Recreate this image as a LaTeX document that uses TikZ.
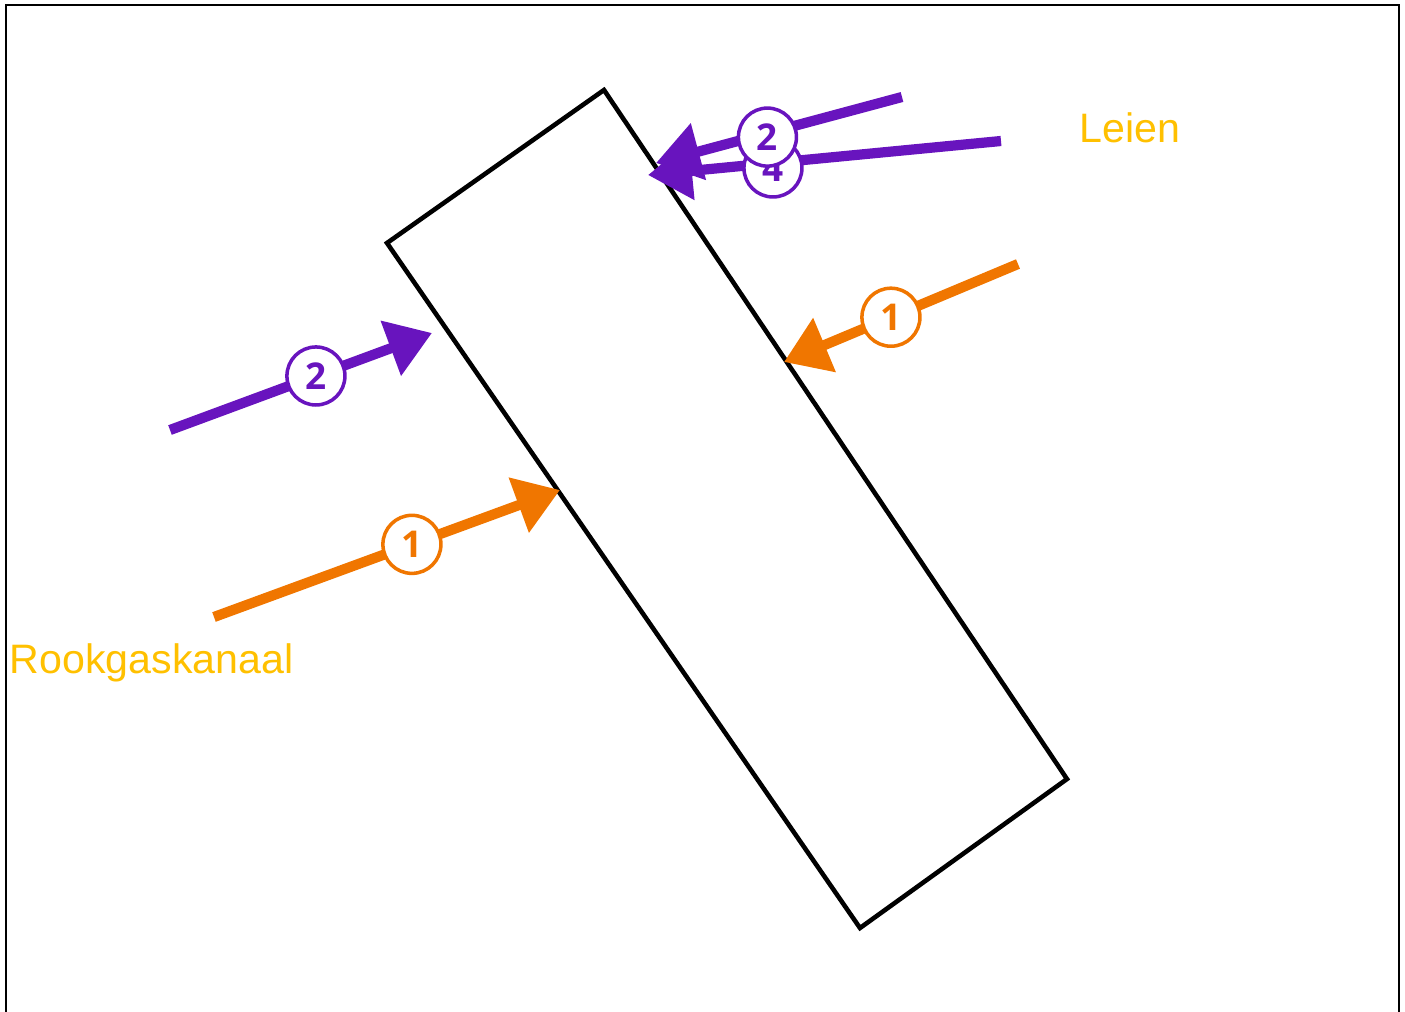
\documentclass[tikz,border=0pt]{standalone}
\usepackage{fontspec}
\usepackage{tikz}
\usetikzlibrary{arrows.meta}
\newfontfamily\labelfont{Liberation Sans}
\newfontfamily\badgefont{Open Sans}
\definecolor{violet}{RGB}{104,20,190}
\definecolor{oranje}{RGB}{240,118,0}
\definecolor{geel}{RGB}{255,192,0}

\begin{document}
\begin{tikzpicture}
  [x=0.01cm,y=-0.01cm,every node/.style={inner sep=0pt}]

  \tikzstyle{flow} = [line width=2.9pt, -{Triangle[length=12.5pt,width=16pt]}]
  \tikzstyle{badge} = [draw, circle, fill=white, line width=1pt,
                       minimum size=0.58cm, font=\badgefont\bfseries\fontsize{10.5}{10.5}\selectfont]
  \tikzstyle{label} = [text=geel, font=\labelfont\fontsize{11.7}{12}\selectfont, anchor=base west]

  \useasboundingbox (0,0) rectangle (1405,1012);
  \draw[line width=0.6pt] (6,1012) -- (6,5) -- (1399,5) -- (1399,1012);

  % wall
  \coordinate (w1) at (604,90);
  \coordinate (w2) at (387,243);
  \coordinate (w3) at (860,928);
  \coordinate (w4) at (1067,779);
  \draw[line width=1.3pt, line join=miter] (w1) -- (w2) -- (w3) -- (w4) -- cycle;

  % flows
  \coordinate (a1) at (170,430);  \coordinate (a2) at (432,333);
  \coordinate (b1) at (214,617);  \coordinate (b2) at (560,490);
  \coordinate (c1) at (1018,264); \coordinate (c2) at (784,362);
  \coordinate (d1) at (1001,141); \coordinate (d2) at (648,175);
  \coordinate (e1) at (902,97);   \coordinate (e2) at (656,163);

  \draw[flow, violet] (a1) -- node[badge, pos=0.557] (na) {2} (a2);
  \draw[flow, oranje] (b1) -- node[badge, pos=0.572] (nb) {1} (b2);
  \draw[flow, oranje] (c1) -- node[badge, pos=0.543] (nc) {1} (c2);
  \draw[flow, violet] (d1) -- node[badge, pos=0.646, yshift=-0.05cm] (nd) {4} (d2);
  \draw[flow, violet] (e1) -- node[badge, pos=0.547, yshift=-0.04cm] (ne) {2} (e2);

  \node[label] (leien) at (1079,142) {Leien};
  \node[label] (rook) at (9,673) {Rookgaskanaal};
\end{tikzpicture}
\end{document}
